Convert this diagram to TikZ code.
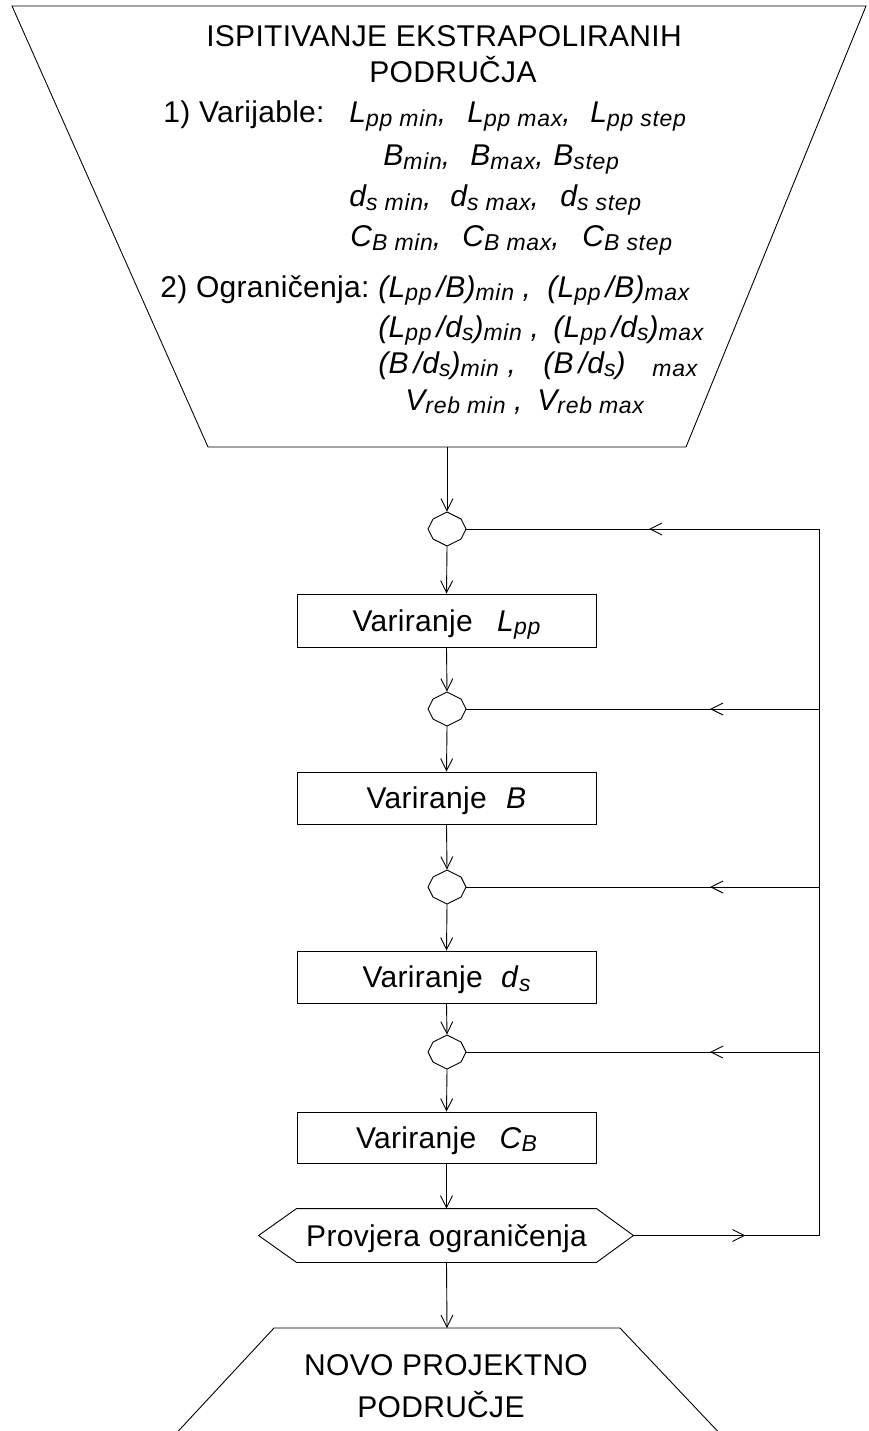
\documentclass[tikz,border=0pt]{standalone}
\usepackage{fontspec}
\setmainfont{Liberation Sans}[LetterSpace=1]
\newfontfamily\subf[LetterSpace=3]{Liberation Sans}
\usetikzlibrary{arrows.meta,decorations.markings}
\newcommand\sbs[1]{\raisebox{-3.5pt}{\fontsize{23}{23}\subf\itshape #1}}
\newcommand\slsh{\hspace*{5pt}/}
\newcommand\itm[2]{\makebox[#1][l]{#2}}
\newcommand\octpath[1]{\draw ([shift={(0,-17)}]#1.center) -- ([shift={(14,-10)}]#1.center) -- ([shift={(19,0)}]#1.center) -- ([shift={(14,10)}]#1.center) -- ([shift={(0,17)}]#1.center) -- ([shift={(-14,10)}]#1.center) -- ([shift={(-19,0)}]#1.center) -- ([shift={(-14,-10)}]#1.center) -- cycle;}
\tikzset{
  txt/.style={inner sep=0pt, font=\fontsize{30}{36}\selectfont},
  itxt/.style={inner sep=0pt, font=\fontsize{30}{36}\selectfont\itshape, anchor=base west},
  octn/.style={rectangle, draw=none, minimum width=38pt, minimum height=34pt, inner sep=0pt},
  vbox/.style={rectangle, draw, minimum width=299pt, minimum height=52pt, inner sep=0pt, text height=26pt, text depth=4.5pt, font=\fontsize{30}{36}\selectfont},
  arr/.style={-{Straight Barb[length=12pt,width=12pt]}},
  midarr/.style={postaction={decorate}, decoration={markings, mark=at position #1 with {\arrow{Straight Barb[length=12pt,width=12pt]}}}}
}
\begin{document}
\begin{tikzpicture}[x=1pt,y=-1pt,line width=0.9pt]
\useasboundingbox (0,0) rectangle (869,1431);
\begin{scope}
\clip (0,0) rectangle (869,1431);
% top trapezoid
\draw (12,6) -- (866,6) -- (686,447) -- (208,447) -- cycle;
\coordinate (tb) at (447,447);
% bottom trapezoid
\draw (170,1440) -- (274,1328) -- (620,1328) -- (726,1440);
\coordinate (bt) at (447,1328);
\end{scope}

\node[txt, anchor=base] (t1) at (444,47) {ISPITIVANJE EKSTRAPOLIRANIH};
\node[txt, anchor=base] (t2) at (453,83) {PODRUČJA};
\node[txt, anchor=base west] (v0) at (163,123) {1) Varijable:};
\node[itxt] (v1) at (349,123) {\itm{118pt}{L\sbs{pp min},}\itm{123pt}{L\sbs{pp max},}L\sbs{pp step}};
\node[itxt] (v2) at (383,166) {\itm{87pt}{B\sbs{min},}\itm{83pt}{B\sbs{max},}B\sbs{step}};
\node[itxt] (v3) at (349,207) {\itm{101pt}{d\sbs{s min},}\itm{110pt}{d\sbs{s max},}d\sbs{s step}};
\node[itxt] (v4) at (350,247) {\itm{112pt}{C\sbs{B min},}\itm{120pt}{C\sbs{B max},}C\sbs{B step}};
\node[txt, anchor=base west] (c0) at (160,297) {2) Ograničenja:};
\node[itxt] (c1) at (378,297) {\itm{169pt}{(L\sbs{pp}\slsh B)\sbs{min} ,}(L\sbs{pp}\slsh B)\sbs{max}};
\node[itxt] (c2) at (378,337) {\itm{175pt}{(L\sbs{pp}\slsh d\sbs{s})\sbs{min} ,}(L\sbs{pp}\slsh d\sbs{s})\sbs{max}};
\node[itxt] (c3) at (378,373) {\itm{165pt}{(B\slsh d\sbs{s})\sbs{min} ,}\itm{109pt}{(B\slsh d\sbs{s})}\sbs{max}};
\node[itxt] (c4) at (405,410) {\itm{132pt}{V\sbs{reb min} ,}V\sbs{reb max}};

% octagons
\node[octn] (o1) at (447,529) {}; \octpath{o1}
\node[octn] (o2) at (447,709) {}; \octpath{o2}
\node[octn] (o3) at (447,887) {}; \octpath{o3}
\node[octn] (o4) at (447,1052) {}; \octpath{o4}

% boxes
\node[vbox, minimum height=53pt] (b1) at (446.5,620.5) {\makebox[188pt][s]{Variranje \textit{L}\sbs{pp}}};
\node[vbox] (b2) at (446.5,798) {\makebox[160pt][s]{Variranje \textit{B}}};
\node[vbox] (b3) at (446.5,977) {\makebox[168pt][s]{Variranje \textit{d}\sbs{s}}};
\node[vbox, minimum height=51pt] (b4) at (446.5,1137.5) {\makebox[181pt][s]{Variranje \textit{C}\sbs{B}}};

% hexagon
\node[txt, minimum width=299pt, minimum height=53pt, text height=26pt, text depth=4.5pt] (hx) at (446.5,1235.5) {Provjera ograničenja};
\draw (hx.north west) -- (hx.north east) -- ([xshift=37pt]hx.east) -- (hx.south east) -- (hx.south west) -- ([xshift=-38pt]hx.west) -- cycle;
\coordinate (hxr) at ([xshift=37pt]hx.east);

% main flow
\draw[arr] (tb) -- (o1.north);
\draw[arr] (o1.south) -- (b1.north);
\draw[arr] (b1.south) -- (o2.north);
\draw[arr] (o2.south) -- (b2.north);
\draw[arr] (b2.south) -- (o3.north);
\draw[arr] (o3.south) -- (b3.north);
\draw[arr] (b3.south) -- (o4.north);
\draw[arr] (o4.south) -- (b4.north);
\draw[arr] (b4.south) -- (hx.north);
\draw[arr] (hx.south) -- (bt);

% feedback loop
\coordinate (r0) at (819,1235.5);
\coordinate (r1) at (819,529);
\coordinate (r2) at (819,709);
\coordinate (r3) at (819,887);
\coordinate (r4) at (819,1052);
\draw[midarr=112pt] (hxr) -- (r0);
\draw (r0) -- (r1);
\draw[midarr=170pt] (r1) -- (o1.east);
\draw[midarr=109pt] (r2) -- (o2.east);
\draw[midarr=109pt] (r3) -- (o3.east);
\draw[midarr=109pt] (r4) -- (o4.east);

\node[txt, anchor=base] (n1) at (446,1375) {NOVO PROJEKTNO};
\node[txt, anchor=base] (n2) at (441,1417) {PODRUČJE};
\end{tikzpicture}
\end{document}
